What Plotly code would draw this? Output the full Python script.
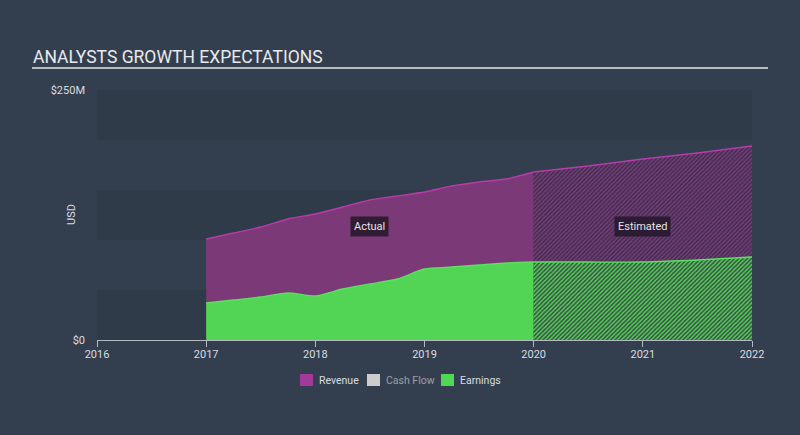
import plotly.graph_objects as go

# ---- data (values in $M) ----
actual_x = [2017.0, 2017.25, 2017.5, 2017.75, 2018.0, 2018.25, 2018.5, 2018.75,
            2019.0, 2019.25, 2019.5, 2019.75, 2020.0]
revenue_actual = [101, 107, 113, 121, 126, 133, 140, 144, 148, 154, 158, 161, 168]
earnings_actual = [37, 40, 43, 47, 44, 51, 56, 61, 71, 73, 75, 77, 78]

est_x = [2020.0, 2020.5, 2021.0, 2021.5, 2022.0]
revenue_est = [168, 174, 181, 187, 194]
earnings_est = [78, 78, 78, 80, 83]

year_ticks = [2016, 2017, 2018, 2019, 2020, 2021, 2022]
year_labels = [str(y) for y in year_ticks]
y_ticks = [0, 250]
y_labels = ["$0", "$250M"]

legend_names = ["Revenue", "Cash Flow", "Earnings"]
legend_colors = ["#a13a9b", "#cccccc", "#4fd853"]

BG = "#333f4e"
BAND = "#2f3b49"
PURPLE = "#7b3a77"
PURPLE_LINE = "#b83bab"
GREEN = "#52d455"
GREEN_LINE = "#5ce05f"
TEXT = "#d9dde2"
FONT = "Roboto"

# plot-area pixel geometry (for paper-coordinate placement of decorations)
L, R, T, B = 97, 752, 90, 340
def px(xp):
    return (xp - L) / (R - L)
def py(yp):
    return (B - yp) / (B - T)

fig = go.Figure()

fig.add_trace(go.Scatter(x=actual_x, y=revenue_actual, mode="lines", fill="tozeroy",
                         fillcolor=PURPLE, line=dict(color=PURPLE_LINE, width=1.3, shape="spline", smoothing=0.6),
                         showlegend=False, hoverinfo="skip"))
fig.add_trace(go.Scatter(x=est_x, y=revenue_est, mode="lines", fill="tozeroy",
                         fillcolor=PURPLE,
                         fillpattern=dict(shape="/", bgcolor=PURPLE, fgcolor="#34304a", size=3, solidity=0.45, fillmode="replace"),
                         line=dict(color=PURPLE_LINE, width=1.3, shape="spline", smoothing=0.6),
                         showlegend=False, hoverinfo="skip"))
fig.add_trace(go.Scatter(x=actual_x, y=earnings_actual, mode="lines", fill="tozeroy",
                         fillcolor=GREEN, line=dict(color=GREEN_LINE, width=1.3, shape="spline", smoothing=0.6),
                         showlegend=False, hoverinfo="skip"))
fig.add_trace(go.Scatter(x=est_x, y=earnings_est, mode="lines", fill="tozeroy",
                         fillcolor=GREEN,
                         fillpattern=dict(shape="/", bgcolor=GREEN, fgcolor="#3a4a48", size=3, solidity=0.5, fillmode="replace"),
                         line=dict(color=GREEN_LINE, width=1.3, shape="spline", smoothing=0.6),
                         showlegend=False, hoverinfo="skip"))

shapes = []
for lo, hi in [(0, 50), (100, 150), (200, 250)]:
    shapes.append(dict(type="rect", xref="paper", yref="y", x0=0, x1=1, y0=lo, y1=hi,
                       fillcolor=BAND, line=dict(width=0), layer="below"))
# title underline
shapes.append(dict(type="line", xref="paper", yref="paper", x0=px(32), x1=px(768), y0=py(68), y1=py(68),
                   line=dict(color="#e6e6e6", width=1.5)))

annotations = [
    dict(text="ANALYSTS GROWTH EXPECTATIONS", xref="paper", yref="paper", x=px(31), y=py(57),
         xanchor="left", yanchor="middle", showarrow=False, font=dict(family=FONT, size=17.5, color="#e8eaed")),
    dict(text="USD", xref="paper", yref="paper", x=px(71), y=py(215), textangle=-90,
         xanchor="center", yanchor="middle", showarrow=False, font=dict(family=FONT, size=11, color=TEXT)),
    dict(text="Actual", x=2018.5, y=114, xref="x", yref="y", showarrow=False,
         bgcolor="rgba(38,24,44,0.88)", borderpad=3, font=dict(family=FONT, size=11, color="#e4e4e4")),
    dict(text="Estimated", x=2021.0, y=114, xref="x", yref="y", showarrow=False,
         bgcolor="rgba(38,24,44,0.88)", borderpad=3, font=dict(family=FONT, size=11, color="#e4e4e4")),
]

# manual legend
leg_sq_left = [300, 367, 441]
leg_text_colors = [TEXT, "#9aa0a8", TEXT]
for name, col, tcol, sx in zip(legend_names, legend_colors, leg_text_colors, leg_sq_left):
    shapes.append(dict(type="rect", xref="paper", yref="paper", x0=px(sx), x1=px(sx + 13),
                       y0=py(386), y1=py(374), fillcolor=col, line=dict(width=0)))
    annotations.append(dict(text=name, xref="paper", yref="paper", x=px(sx + 17), y=py(380),
                            xanchor="left", yanchor="middle", showarrow=False,
                            font=dict(family=FONT, size=10.5, color=tcol)))

fig.update_layout(
    width=800, height=435,
    margin=dict(l=L, r=800 - R, t=T, b=435 - B),
    paper_bgcolor=BG, plot_bgcolor=BG,
    font=dict(family=FONT, size=11, color=TEXT),
    shapes=shapes, annotations=annotations,
    showlegend=False,
    hovermode=False,
)
fig.update_xaxes(range=[2016, 2022], tickvals=year_ticks, ticktext=year_labels,
                 showgrid=False, zeroline=False, showline=True, linecolor="#b4bac2", linewidth=1,
                 ticks="outside", ticklen=6, tickcolor="#b4bac2", ticklabelstandoff=-2,
                 tickfont=dict(size=11, color=TEXT))
fig.update_yaxes(range=[0, 250], tickvals=y_ticks, ticktext=y_labels,
                 showgrid=False, zeroline=False, showline=False, ticks="",
                 ticklabelstandoff=11,
                 tickfont=dict(size=11, color=TEXT))

fig.write_html("out.html")
